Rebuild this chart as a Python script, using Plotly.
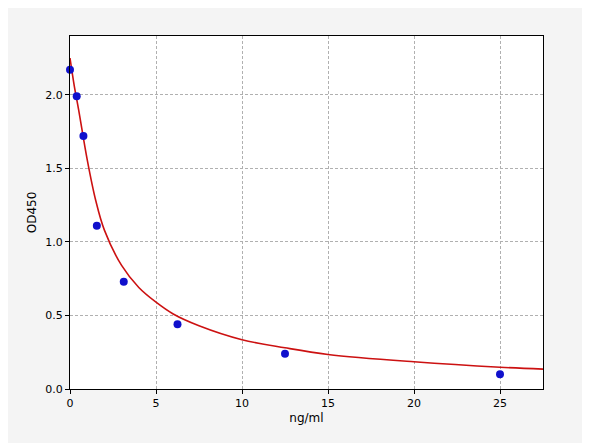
import plotly.graph_objects as go

conc = [0, 0.39, 0.78, 1.56, 3.125, 6.25, 12.5, 25]
od = [2.17, 1.99, 1.72, 1.11, 0.73, 0.44, 0.24, 0.10]

curve_x = [0, 0.25, 0.5, 1, 1.5, 2, 3, 4, 5, 6, 7.5, 10, 12.5, 15, 20, 25, 27.5]
curve_y = [2.25, 2.06, 1.90, 1.56, 1.28, 1.08, 0.84, 0.69, 0.59, 0.51, 0.43, 0.335, 0.28, 0.235, 0.185, 0.148, 0.135]

fig = go.Figure()
fig.add_trace(go.Scatter(x=curve_x, y=curve_y, mode="lines", line=dict(color="#cc1111", width=1.6, shape="spline"), showlegend=False))
fig.add_trace(go.Scatter(x=conc, y=od, mode="markers", marker=dict(color="#1010cc", size=8), showlegend=False, cliponaxis=False))

ax = dict(showline=True, linecolor="black", mirror=True, ticks="outside", ticklen=4, tickcolor="black",
          showgrid=True, gridcolor="#b0b0b0", griddash="3px,2px", zeroline=False,
          tickfont=dict(family="DejaVu Sans", size=11, color="black"))
fig.update_xaxes(**ax, range=[0, 27.5], dtick=5, title=dict(text="ng/ml", font=dict(family="DejaVu Sans", size=12, color="black"), standoff=4))
fig.update_yaxes(**ax, range=[0, 2.4], dtick=0.5, tickformat=".1f", title=dict(text="OD450", font=dict(family="DejaVu Sans", size=12, color="black"), standoff=6))
fig.update_layout(width=590, height=443, margin=dict(l=62, r=55, t=28, b=62),
                  paper_bgcolor="#f4f4f4", plot_bgcolor="white")
fig.write_html("out.html")
